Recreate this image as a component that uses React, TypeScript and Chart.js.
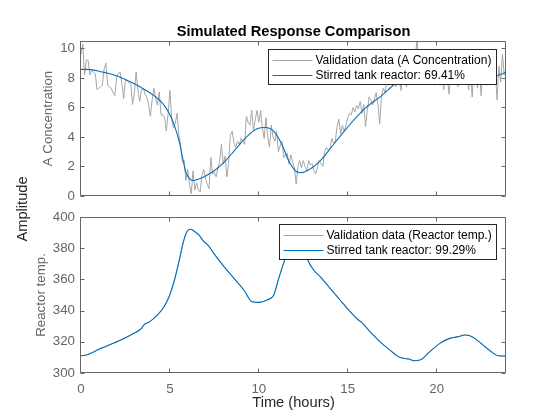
import React, { useEffect, useRef } from "react";
import { Chart, registerables } from "chart.js";

Chart.register(...registerables);

const FONT = '"Liberation Sans", Arial, Helvetica, sans-serif';
const BLUE = "#0072BD";
const GRAY = "#a6a6a6";
const AXIS = "#666666";
const DARK = "#262626";

// ---- data ----
const sampleTimeHours = 0.1;

// Validation data, A concentration (one value per 0.1 h, t = 0.0 ... 23.9)
const validationA = [
  9.6, 10.3, 8.2, 9.2, 9.2, 8.2, 8.5, 8.4, 8.3, 7.2,
  7.3, 7.4, 7.5, 8.6, 9.0, 7.5, 7.4, 7.3, 7.0, 6.8,
  8.0, 8.3, 8.4, 7.6, 6.6, 7.9, 7.8, 7.7, 7.6, 6.2,
  7.0, 8.4, 7.2, 6.4, 7.2, 7.3, 6.9, 6.7, 6.2, 5.4,
  6.5, 7.3, 6.6, 6.15, 7.05, 5.5, 5.5, 5.3, 4.4, 5.6,
  7.15, 5.2, 4.6, 4.9, 5.6, 4.2, 3.5, 2.3, 2.4, 1.05,
  1.8, 0.8, 0.15, 1.7, 0.4, 0.9, 0.4, 0.27, 1.4, 1.8,
  1.2, 0.8, 0.5, 2.6, 1.5, 1.6, 1.3, 1.9, 2.4, 3.5,
  2.15, 2.7, 1.3, 2.2, 4.1, 4.4, 3.6, 3.3, 3.7, 3.5,
  3.9, 3.7, 3.5, 5.4, 5.0, 4.8, 5.8, 4.4, 5.2, 5.8,
  5.0, 5.8, 4.6, 3.9, 5.3, 4.0, 3.3, 4.8, 4.0, 3.7,
  4.4, 3.0, 3.4, 3.7, 2.6, 2.8, 2.9, 2.15, 2.8, 2.3,
  1.9, 0.8, 2.0, 2.4, 1.9, 2.4, 2.0, 1.7, 2.4, 2.1,
  2.2, 1.7, 1.5, 2.0, 2.4, 2.2, 2.0, 3.0, 3.3, 3.1,
  3.2, 3.9, 3.6, 3.7, 4.7, 5.2, 4.2, 4.8, 4.4, 4.8,
  5.3, 5.6, 5.5, 6.0, 5.7, 6.15, 5.9, 6.4, 5.6, 6.2,
  4.7, 5.8, 6.7, 6.5, 6.15, 6.6, 7.0, 6.2, 4.9, 6.8,
  7.3, 7.0, 7.9, 7.5, 8.2, 7.6, 8.4, 7.4, 8.6, 8.0,
  7.15, 8.9, 8.3, 7.4, 9.0, 8.2, 8.8, 7.6, 9.2, 10.8,
  8.3, 8.9, 7.9, 8.7, 9.3, 8.1, 8.8, 9.1, 8.4, 7.5,
  8.7, 9.2, 7.5, 8.5, 7.2, 9.0, 8.0, 6.9, 8.6, 7.6,
  9.1, 8.3, 7.4, 8.8, 8.4, 9.4, 8.0, 8.9, 7.2, 8.6,
  6.7, 9.0, 8.2, 7.3, 8.7, 6.8, 8.9, 8.1, 7.5, 9.0,
  7.8, 8.5, 9.0, 8.4, 6.5, 8.8, 7.7, 9.6, 8.2, 8.6,
];

// Stirred tank reactor model output, A concentration
const fitTimesA = [
  0, 0.56, 1.12, 1.87, 2.43, 3.0, 3.56, 4.12, 4.59, 4.96, 5.24, 5.52, 5.71,
  5.9, 6.18, 6.3, 6.46, 6.93, 7.49, 8.15, 8.6, 9.34, 9.9, 10.37, 10.84, 11.3,
  11.68, 12.05, 12.33, 12.8, 13.45, 14.2, 14.95, 15.97, 16.93, 17.68, 18.5,
  19.5, 20.5, 21.5, 22.5, 23.3, 23.9,
];
const fitA = [
  8.58, 8.56, 8.42, 8.2, 7.93, 7.6, 7.22, 6.78, 6.27, 5.6, 4.82, 3.71, 2.6,
  1.6, 1.09, 1.05, 1.09, 1.31, 1.71, 2.42, 3.04, 4.04, 4.56, 4.64, 4.38, 3.49,
  2.38, 1.71, 1.58, 1.76, 2.38, 3.49, 4.6, 5.93, 6.82, 7.6, 8.0,
  8.3, 8.45, 8.4, 8.25, 8.15, 8.38,
];

// Reactor temperature (validation and model nearly coincide)
const fitTimesT = [
  0, 0.3, 1.12, 1.68, 2.24, 2.8, 3.36, 3.59, 3.83, 4.3, 4.67, 4.95, 5.23, 5.51,
  5.76, 5.98, 6.17, 6.35, 6.63, 6.91, 7.14, 7.47, 8.04, 8.6, 9.16, 9.62, 10.0,
  10.46, 10.84, 11.12, 11.49, 11.8, 12.05, 12.3, 12.55, 12.7, 13.08, 13.45,
  14.01, 14.57, 15.13, 15.6, 15.78, 16.25, 16.81, 17.37, 17.84, 18.12, 18.5,
  18.68, 19.06, 19.62, 20.18, 20.74, 21.21, 21.58, 21.86, 22.14, 22.6, 23.07,
  23.45, 23.9,
];
const fitT = [
  311.1, 311.5, 315.8, 318.4, 321.2, 324.4, 328.2, 331.4, 332.6, 337.2, 342.5,
  348.9, 358.5, 371.4, 384.2, 391.0, 392.1, 391.0, 388.5, 384.2, 382.0, 376.7,
  368.2, 360.7, 353.2, 345.7, 345.3, 346.8, 350.0, 360.7, 373.5, 382.0, 387.0,
  385.0, 378.0, 373.5, 366.0, 361.8, 354.3, 346.8, 339.3, 334.0, 332.5, 326.5,
  320.1, 314.7, 310.5, 309.4, 308.8, 307.9, 308.3, 313.7, 319.0, 322.2, 323.3,
  324.4, 323.9, 322.2, 318.0, 313.7, 311.1, 310.9,
];
const validationTimesT = fitTimesT;
const validationT = fitT;

const xTicks = [0, 5, 10, 15, 20];
const yTicksA = [0, 2, 4, 6, 8, 10];
const yTicksT = [300, 320, 340, 360, 380, 400];

const legendA = ["Validation data (A Concentration)", "Stirred tank reactor: 69.41%"];
const legendT = ["Validation data (Reactor temp.)", "Stirred tank reactor: 99.29%"];

const titleText = "Simulated Response Comparison";
const xLabel = "Time (hours)";
const yLabelShared = "Amplitude";
const yLabelA = "A Concentration";
const yLabelT = "Reactor temp.";

// ---- plugin: MATLAB-style box, inward ticks, boxed legend ----
const matlabFrame = {
  id: "matlabFrame",
  afterDatasetsDraw(chart: any, _args: any, opts: any) {
    const { ctx, chartArea: ca, scales } = chart;
    ctx.save();
    ctx.lineWidth = 1;
    ctx.strokeStyle = AXIS;
    const L = Math.round(ca.left) - 0.5;
    const R = Math.round(ca.right) - 0.5;
    const T = Math.round(ca.top) + 0.5;
    const B = Math.round(ca.bottom) - 0.5;
    ctx.beginPath();
    ctx.rect(L, T, R - L, B - T);
    const tl = 4;
    for (const v of opts.xTicks) {
      const px = Math.round(scales.x.getPixelForValue(v)) - 0.5;
      ctx.moveTo(px, B);
      ctx.lineTo(px, B - tl);
      ctx.moveTo(px, T);
      ctx.lineTo(px, T + tl);
    }
    for (const v of opts.yTicks) {
      const py = Math.round(scales.y.getPixelForValue(v)) + 0.5;
      ctx.moveTo(L, py);
      ctx.lineTo(L + tl, py);
      ctx.moveTo(R, py);
      ctx.lineTo(R - tl, py);
    }
    ctx.stroke();

    // legend
    const items = chart.data.datasets.map((d: any) => ({
      label: d.label,
      color: d.borderColor,
      width: d.borderWidth,
    }));
    ctx.font = `12px ${FONT}`;
    const textW = Math.max(...items.map((i: any) => ctx.measureText(i.label).width));
    const boxW = Math.round(47 + textW + 5);
    const boxH = 35;
    const bx = Math.round(ca.right - 10 - boxW) + 0.5;
    const by = Math.round(ca.top + opts.legendTop) + 0.5;
    ctx.fillStyle = "#ffffff";
    ctx.fillRect(bx, by, boxW, boxH);
    ctx.strokeStyle = DARK;
    ctx.strokeRect(bx, by, boxW, boxH);
    items.forEach((it: any, i: number) => {
      const y = Math.round(by + 10 + i * 15.5) + 0.5;
      ctx.strokeStyle = it.color;
      ctx.lineWidth = it.width;
      ctx.beginPath();
      ctx.moveTo(bx + 4, y);
      ctx.lineTo(bx + 44, y);
      ctx.stroke();
      ctx.fillStyle = "#000000";
      ctx.textBaseline = "middle";
      ctx.textAlign = "left";
      ctx.fillText(it.label, bx + 47, y + 0.5);
    });
    ctx.restore();
  },
};

function setTicks(values: number[]) {
  return (scale: any) => {
    scale.ticks = values.map((v) => ({ value: v }));
  };
}

function yAxis(min: number, max: number, ticks: number[], label: string, titlePad: number) {
  return {
    type: "linear",
    min,
    max,
    afterBuildTicks: setTicks(ticks),
    afterFit: (s: any) => {
      s.width = 81;
    },
    grid: { display: false, drawTicks: false },
    border: { display: false },
    ticks: {
      color: AXIS,
      padding: 6,
      font: { family: FONT, size: 13.33 },
    },
    title: {
      display: true,
      text: label,
      color: AXIS,
      font: { family: FONT, size: 13.33, lineHeight: 1.2 },
      padding: { top: titlePad, bottom: 0 },
    },
  };
}

export default function App() {
  const topRef = useRef<HTMLCanvasElement>(null);
  const botRef = useRef<HTMLCanvasElement>(null);

  useEffect(() => {
    const top = new Chart(topRef.current as HTMLCanvasElement, {
      type: "line",
      data: {
        datasets: [
          {
            label: legendA[0],
            data: validationA.map((v, i) => ({ x: i * sampleTimeHours, y: v })),
            borderColor: GRAY,
            borderWidth: 1,
            pointRadius: 0,
            tension: 0,
            order: 2,
          },
          {
            label: legendA[1],
            data: fitTimesA.map((t, i) => ({ x: t, y: fitA[i] })),
            borderColor: BLUE,
            borderWidth: 1.1,
            pointRadius: 0,
            cubicInterpolationMode: "monotone",
            order: 1,
          },
        ],
      },
      options: {
        animation: false,
        responsive: false,
        events: [],
        layout: { padding: { top: 41, right: 54, bottom: 11, left: 0 } },
        plugins: {
          legend: { display: false },
          tooltip: { enabled: false },
          matlabFrame: { xTicks, yTicks: yTicksA, legendTop: 8 },
        } as any,
        scales: {
          x: { type: "linear", min: 0, max: 23.9, display: false },
          y: yAxis(0, 10.5, yTicksA, yLabelA, 40) as any,
        },
      },
      plugins: [matlabFrame],
    });

    const bot = new Chart(botRef.current as HTMLCanvasElement, {
      type: "line",
      data: {
        datasets: [
          {
            label: legendT[0],
            data: validationTimesT.map((t, i) => ({ x: t, y: validationT[i] })),
            borderColor: GRAY,
            borderWidth: 1,
            pointRadius: 0,
            cubicInterpolationMode: "monotone",
            order: 2,
          },
          {
            label: legendT[1],
            data: fitTimesT.map((t, i) => ({ x: t, y: fitT[i] })),
            borderColor: BLUE,
            borderWidth: 1.1,
            pointRadius: 0,
            cubicInterpolationMode: "monotone",
            order: 1,
          },
        ],
      },
      options: {
        animation: false,
        responsive: false,
        events: [],
        layout: { padding: { top: 17, right: 54, bottom: 8.5, left: 0 } },
        plugins: {
          legend: { display: false },
          tooltip: { enabled: false },
          matlabFrame: { xTicks, yTicks: yTicksT, legendTop: 7 },
        } as any,
        scales: {
          x: {
            type: "linear",
            min: 0,
            max: 23.9,
            afterBuildTicks: setTicks(xTicks),
            afterFit: (s: any) => {
              s.height = 38.5;
            },
            grid: { display: false, drawTicks: false },
            border: { display: false },
            ticks: {
              color: AXIS,
              padding: 8,
              maxRotation: 0,
              autoSkip: false,
              font: { family: FONT, size: 13.33, lineHeight: 1.2 },
            },
            title: {
              display: true,
              text: xLabel,
              color: DARK,
              font: { family: FONT, size: 14.67, lineHeight: 1.2 },
              padding: { top: 0, bottom: 0 },
            },
          } as any,
          y: yAxis(300, 400, yTicksT, yLabelT, 33) as any,
        },
      },
      plugins: [matlabFrame],
    });

    return () => {
      top.destroy();
      bot.destroy();
    };
  }, []);

  return (
    <div
      style={{
        position: "fixed",
        left: 0,
        top: 0,
        width: 560,
        height: 420,
        background: "#ffffff",
        overflow: "hidden",
        fontFamily: FONT,
      }}
    >
      <canvas
        ref={topRef}
        width={560}
        height={210}
        style={{ position: "absolute", left: 0, top: 0, width: 560, height: 210 }}
      />
      <canvas
        ref={botRef}
        width={560}
        height={220}
        style={{ position: "absolute", left: 0, top: 200, width: 560, height: 220 }}
      />
      <div
        style={{
          position: "absolute",
          left: 81,
          width: 425,
          top: 22,
          height: 18,
          lineHeight: "18px",
          textAlign: "center",
          fontWeight: "bold",
          fontSize: 14.67,
          color: "#000000",
          whiteSpace: "nowrap",
        }}
      >
        {titleText}
      </div>
      <div
        style={{
          position: "absolute",
          left: 22 - 60,
          top: 209 - 9,
          width: 120,
          height: 18,
          lineHeight: "18px",
          textAlign: "center",
          fontSize: 14.67,
          color: DARK,
          transform: "rotate(-90deg)",
          whiteSpace: "nowrap",
        }}
      >
        {yLabelShared}
      </div>
    </div>
  );
}
